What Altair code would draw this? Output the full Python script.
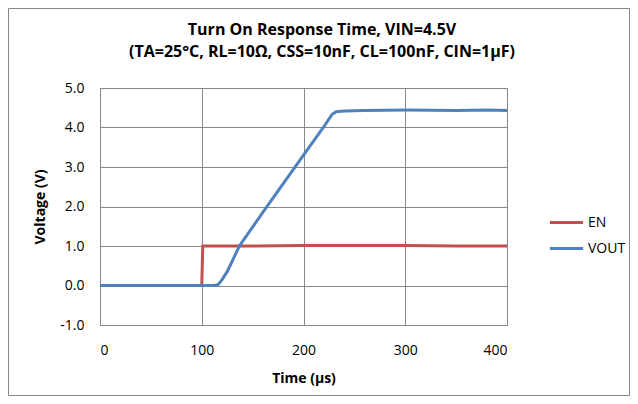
import altair as alt
import pandas as pd

title_lines = ["Turn On Response Time, VIN=4.5V", "(TA=25°C, RL=10Ω, CSS=10nF, CL=100nF, CIN=1µF)"]

en_t = [0, 50, 100, 101, 150, 200, 250, 300, 350, 400]
en_v = [0.0, 0.0, 0.0, 1.0, 1.0, 1.01, 1.01, 1.01, 1.0, 1.0]

vout_t = [0, 50, 100, 112, 116, 120, 125, 137, 160, 200, 220, 228, 232, 240, 260, 300, 350, 380, 400]
vout_v = [0.0, 0.0, 0.0, 0.0, 0.02, 0.15, 0.35, 1.0, 1.85, 3.3, 4.02, 4.33, 4.4, 4.42, 4.43, 4.44, 4.43, 4.44, 4.43]

x_ticks = [0, 100, 200, 300, 400]
y_ticks = [-1, 0, 1, 2, 3, 4, 5]

df = pd.concat([
    pd.DataFrame({"t": en_t, "v": en_v, "s": "EN"}),
    pd.DataFrame({"t": vout_t, "v": vout_v, "s": "VOUT"}),
])

FONT = "Open Sans"

lines = alt.Chart(df).mark_line(strokeWidth=3).encode(
    x=alt.X("t:Q", scale=alt.Scale(domain=[0, 400]),
            axis=alt.Axis(values=x_ticks, title="Time (µs)", titleFontWeight="bold",
                          titleFontSize=14, titlePadding=14, labelPadding=18, ticks=False,
                          labelFontSize=14, format="d")),
    y=alt.Y("v:Q", scale=alt.Scale(domain=[-1, 5]),
            axis=alt.Axis(values=y_ticks, title="Voltage (V)", titleFontWeight="bold",
                          titleFontSize=14, titlePadding=12, labelPadding=16, ticks=False,
                          labelFontSize=14,
                          labelExpr="replace(format(datum.value, '.1f'), '\u2212', '-')")),
    color=alt.Color("s:N", scale=alt.Scale(domain=["EN", "VOUT"], range=["#C0504D", "#4F81BD"]),
                    legend=alt.Legend(title=None, orient="none", legendX=448, legendY=116,
                                      symbolType="stroke", symbolStrokeWidth=3, symbolSize=1100,
                                      labelFontSize=14, rowPadding=0, labelOffset=3)),
    order="t:Q",
)

frame = alt.Chart(pd.DataFrame({"a": [0]})).mark_rect(fill=None, stroke="#888888", strokeWidth=1, clip=False).encode(
    x=alt.value(-91.5), x2=alt.value(529.5), y=alt.value(-79.5), y2=alt.value(307.5)
)

tdf = pd.DataFrame({"txt": title_lines, "yy": [-58, -36]})
title = alt.Chart(tdf).mark_text(fontSize=16, fontWeight="bold", font=FONT, color="#000000",
                                 align="center", baseline="middle").encode(
    text="txt:N", x=alt.value(222), y=alt.Y("yy:Q", scale=None)
)

chart = alt.layer(frame, lines, title).properties(
    width=407, height=237,
    autosize=alt.AutoSizeParams(type="none"),
    padding={"left": 92, "top": 80, "right": 123, "bottom": 71},
).configure_axis(
    gridColor="#878787", domainColor="#878787", labelColor="#000000", titleColor="#000000",
    labelFont=FONT, titleFont=FONT,
).configure_legend(labelFont=FONT, labelColor="#000000").configure_view(stroke="#878787")

chart.save("out.html", embed_options={"renderer": "svg", "actions": False})
